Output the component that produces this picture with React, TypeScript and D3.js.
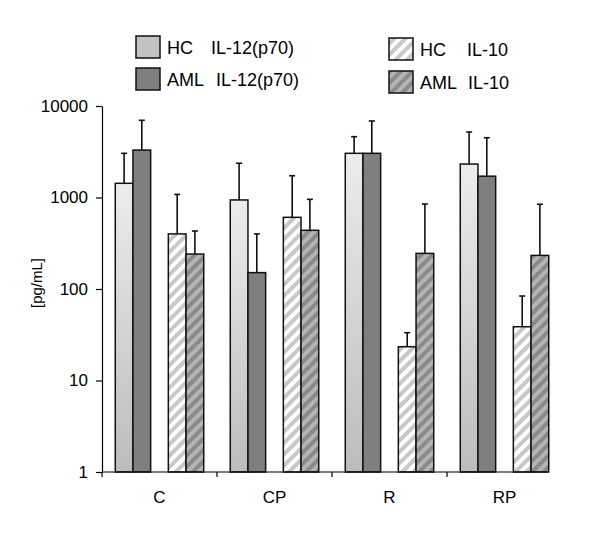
import React, { useEffect, useRef } from "react";
import * as d3 from "d3";

const categories = ["C", "CP", "R", "RP"];
const hcIL12 = [1430, 940, 3040, 2320];
const hcIL12Err = [3040, 2370, 4620, 5200];
const amlIL12 = [3300, 151, 3040, 1710];
const amlIL12Err = [6980, 400, 6860, 4500];
const hcIL10 = [400, 607, 23.4, 38.7];
const hcIL10Err = [1080, 1730, 33.3, 83.8];
const amlIL10 = [241, 438, 245, 233];
const amlIL10Err = [430, 955, 849, 843];
const yTicks = [1, 10, 100, 1000, 10000];

const series = [
  { key: "hc12", label: ["HC", "IL-12(p70)"], values: hcIL12, err: hcIL12Err, fill: "url(#gradHC)", legendFill: "#c2c2c2" },
  { key: "aml12", label: ["AML", "IL-12(p70)"], values: amlIL12, err: amlIL12Err, fill: "#7f7f7f", legendFill: "#7f7f7f" },
  { key: "hc10", label: ["HC", "IL-10"], values: hcIL10, err: hcIL10Err, fill: "url(#hatchHC)", legendFill: "url(#hatchHC)" },
  { key: "aml10", label: ["AML", "IL-10"], values: amlIL10, err: amlIL10Err, fill: "url(#hatchAML)", legendFill: "url(#hatchAML)" },
];

export default function App() {
  const ref = useRef<SVGSVGElement>(null);

  useEffect(() => {
    const width = 600;
    const height = 538;
    const left = 102, bottom = 472, top = 106;
    const svg = d3.select(ref.current).attr("width", width).attr("height", height);
    svg.selectAll("*").remove();
    const font = "'Liberation Sans', Arial, sans-serif";

    const defs = svg.append("defs");
    const grad = defs.append("linearGradient").attr("id", "gradHC")
      .attr("x1", 0).attr("y1", 0).attr("x2", 0).attr("y2", 1);
    grad.append("stop").attr("offset", "0%").attr("stop-color", "#ececec");
    grad.append("stop").attr("offset", "100%").attr("stop-color", "#bcbcbc");

    const hatch = (id: string, bg: string, fg: string) => {
      const p = defs.append("pattern").attr("id", id).attr("patternUnits", "userSpaceOnUse")
        .attr("width", 8).attr("height", 8).attr("patternTransform", "rotate(45)");
      p.append("rect").attr("width", 8).attr("height", 8).attr("fill", bg);
      p.append("rect").attr("width", 4).attr("height", 8).attr("fill", fg);
    };
    hatch("hatchHC", "#ffffff", "#c8c8c8");
    hatch("hatchAML", "#8a8a8a", "#b4b4b4");

    const x = d3.scaleBand().domain(categories).range([left, left + 115 * 4]);
    const sub = d3.scaleBand().domain(["hc12", "aml12", "gap", "hc10", "aml10"])
      .range([0, x.bandwidth()]).paddingInner(0).paddingOuter(0.75);
    const y = d3.scaleLog().domain([1, 10000]).range([bottom, top]);

    // bars with upper error bars
    series.forEach(s => {
      const g = svg.append("g");
      categories.forEach((c, i) => {
        const bx = (x(c) as number) + (sub(s.key) as number);
        const w = sub.bandwidth();
        const cx = bx + w / 2;
        g.append("line").attr("x1", cx).attr("x2", cx)
          .attr("y1", y(s.values[i])).attr("y2", y(s.err[i]))
          .attr("stroke", "#111").attr("stroke-width", 1.6);
        g.append("line").attr("x1", cx - 3).attr("x2", cx + 3)
          .attr("y1", y(s.err[i])).attr("y2", y(s.err[i]))
          .attr("stroke", "#111").attr("stroke-width", 1.6);
        g.append("rect").attr("x", bx).attr("y", y(s.values[i]))
          .attr("width", w).attr("height", y(1) - y(s.values[i]))
          .attr("fill", s.fill).attr("stroke", "#111").attr("stroke-width", 1.5);
      });
    });

    // y axis
    const ya = svg.append("g").attr("transform", `translate(${left},0)`)
      .call(d3.axisLeft(y).tickValues(yTicks).tickFormat(d3.format("d")).tickSize(6).tickSizeOuter(0).tickPadding(8));
    ya.select(".domain").attr("stroke", "#000").attr("stroke-width", 1.2);
    ya.selectAll("line").attr("stroke", "#000").attr("stroke-width", 1.2);
    ya.selectAll("text").style("font-family", font).style("font-size", "17px").attr("fill", "#000");

    // x axis
    svg.append("line").attr("x1", left).attr("x2", 548).attr("y1", bottom).attr("y2", bottom)
      .attr("stroke", "#000").attr("stroke-width", 1.2);
    categories.forEach(c => {
      svg.append("line").attr("x1", x(c) as number).attr("x2", x(c) as number)
        .attr("y1", bottom).attr("y2", bottom + 5).attr("stroke", "#000").attr("stroke-width", 1.2);
      svg.append("text").attr("x", (x(c) as number) + x.bandwidth() / 2).attr("y", 503)
        .attr("text-anchor", "middle").style("font-family", font).style("font-size", "17px").text(c);
    });

    svg.append("text").attr("transform", "translate(42,283) rotate(-90)")
      .attr("text-anchor", "middle").style("font-family", font).style("font-size", "15px").text("[pg/mL]");

    // legend
    const legend = [
      { s: series[0], x: 136, y: 36, gap: 44 },
      { s: series[1], x: 136, y: 68, gap: 49 },
      { s: series[2], x: 389, y: 38, gap: 47 },
      { s: series[3], x: 389, y: 71, gap: 48 },
    ];
    legend.forEach(l => {
      svg.append("rect").attr("x", l.x).attr("y", l.y).attr("width", 24).attr("height", 22)
        .attr("fill", l.s.legendFill).attr("stroke", "#111").attr("stroke-width", 1.5);
      svg.append("text").attr("x", l.x + 31).attr("y", l.y + 18)
        .style("font-family", font).style("font-size", "18px").text(l.s.label[0]);
      svg.append("text").attr("x", l.x + 31 + l.gap).attr("y", l.y + 18)
        .style("font-family", font).style("font-size", "18px").text(l.s.label[1]);
    });
  }, []);

  return (
    <svg ref={ref} style={{ position: "absolute", left: 0, top: 0, background: "#fff" }}></svg>
  );
}
